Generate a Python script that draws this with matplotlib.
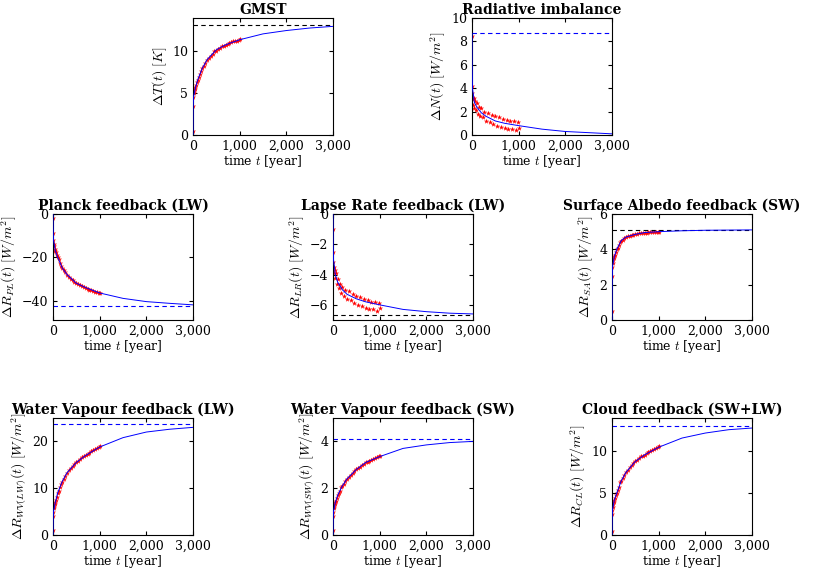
import matplotlib
matplotlib.use("Agg")
import matplotlib.pyplot as plt
from matplotlib.ticker import FuncFormatter

plt.rcParams.update({"font.family": "DejaVu Serif", "mathtext.fontset": "cm", "font.size": 9})

t_obs = [0,5,10,20,30,40,50,60,80,100,120,150,180,200,230,260,300,340,380,420,460,500,540,580,620,660,700,740,780,820,860,900,940,980,1000]
t_fit = [0,2,10,50,100,200,300,500,700,1000,1500,2000,2500,3000]

gmst_obs = [0.5,3.5,4.6,5.0,5.3,5.5,5.8,6.0,6.3,6.6,6.9,7.3,7.7,8.0,8.3,8.6,9.0,9.2,9.5,9.7,10.0,10.1,10.3,10.4,10.6,10.7,10.8,10.9,11.0,11.1,11.2,11.3,11.3,11.4,11.5]
gmst_fit = [0,3.0,4.5,5.6,6.6,8.0,9.0,10.2,10.8,11.4,12.1,12.5,12.8,13.0]
rad_obs = [8.5,4.2,3.6,3.1,2.6,3.2,2.3,2.9,2.1,2.7,1.8,2.4,1.6,2.3,1.5,2.0,1.2,1.9,1.1,1.7,0.9,1.6,0.8,1.5,0.7,1.4,0.6,1.3,0.5,1.2,0.5,1.2,0.4,1.1,0.6]
rad_fit = [8.7,6.0,4.0,2.8,2.4,1.9,1.6,1.2,1.0,0.8,0.5,0.3,0.2,0.1]
pl_obs = [-2,-9,-12,-14,-15,-16,-17,-17.5,-18.8,-20,-21,-22.5,-24,-25,-26,-27,-28,-29,-30,-30.7,-31.4,-32,-32.5,-33,-33.5,-33.8,-34.2,-34.6,-35,-35.3,-35.6,-35.9,-36.2,-36.4,-36.6]
pl_fit = [0,-6,-12,-17,-20,-25,-28,-32,-34,-36.5,-39,-40.5,-41.3,-42]
lr_obs = [-1,-2.5,-3.2,-3.5,-3.9,-3.7,-4.2,-3.9,-4.6,-4.3,-4.9,-4.6,-5.2,-4.8,-5.4,-5.0,-5.6,-5.1,-5.7,-5.3,-5.9,-5.4,-6.0,-5.5,-6.1,-5.6,-6.2,-5.7,-6.3,-5.8,-6.3,-5.8,-6.4,-5.9,-6.2]
lr_fit = [0,-1.8,-3.0,-4.0,-4.5,-5.0,-5.3,-5.6,-5.8,-6.0,-6.3,-6.45,-6.55,-6.6]
sa_obs = [0.5,2.5,3.0,3.2,3.4,3.5,3.6,3.7,3.85,4.0,4.1,4.25,4.4,4.5,4.55,4.62,4.7,4.73,4.78,4.8,4.83,4.85,4.88,4.9,4.9,4.93,4.95,4.95,4.97,4.97,4.98,5.0,5.0,5.0,5.0]
sa_fit = [0,2.0,3.0,3.6,4.0,4.5,4.7,4.85,4.95,5.0,5.05,5.08,5.09,5.1]
wvl_obs = [1,4,5,5.8,6.3,6.7,7.1,7.4,8.2,8.9,9.4,10.2,11,11.4,11.9,12.6,13.3,13.8,14.3,14.8,15.2,15.5,15.9,16.2,16.6,16.8,17.1,17.3,17.6,17.9,18.1,18.4,18.6,18.9,19.0]
wvl_fit = [0,3.0,5.0,7.0,9.0,11.5,13.3,15.5,17.0,18.8,20.8,22.0,22.6,23.0]
wvs_obs = [0.2,0.8,1.0,1.15,1.25,1.32,1.4,1.45,1.58,1.7,1.78,1.9,2.03,2.1,2.2,2.3,2.4,2.5,2.58,2.65,2.73,2.8,2.86,2.92,2.98,3.03,3.1,3.13,3.18,3.22,3.26,3.3,3.33,3.36,3.38]
wvs_fit = [0,0.6,1.0,1.4,1.7,2.1,2.4,2.8,3.1,3.35,3.7,3.85,3.95,4.0]
cl_obs = [0.5,2.5,3.0,3.4,3.7,4.0,4.2,4.4,4.8,5.0,5.4,5.8,6.3,6.5,6.8,7.2,7.5,7.8,8.1,8.4,8.6,8.8,9.0,9.2,9.4,9.5,9.6,9.8,9.95,10.1,10.2,10.3,10.4,10.5,10.6]
cl_fit = [0,2.0,3.0,4.2,5.0,6.5,7.5,8.8,9.6,10.5,11.6,12.2,12.6,12.8]

W, H = 831, 569
panels = [
    ("GMST", r"$\Delta T(t)\ [K]$", gmst_obs, gmst_fit, 13.2, "k", (0, 14), [0,5,10], (193,18,117)),
    ("Radiative imbalance", r"$\Delta N(t)\ [W/m^2]$", rad_obs, rad_fit, 8.7, "blue", (0, 10), [0,2,4,6,8,10], (472,18,117)),
    ("Planck feedback (LW)", r"$\Delta R_{PL}(t)\ [W/m^2]$", pl_obs, pl_fit, -42.5, "blue", (-49, 0), [-40,-20,0], (53,214,106)),
    ("Lapse Rate feedback (LW)", r"$\Delta R_{LR}(t)\ [W/m^2]$", lr_obs, lr_fit, -6.65, "k", (-7, 0), [-6,-4,-2,0], (333,214,106)),
    ("Surface Albedo feedback (SW)", r"$\Delta R_{SA}(t)\ [W/m^2]$", sa_obs, sa_fit, 5.12, "k", (0, 6), [0,2,4,6], (612,214,106)),
    ("Water Vapour feedback (LW)", r"$\Delta R_{WV(LW)}(t)\ [W/m^2]$", wvl_obs, wvl_fit, 23.7, "blue", (0, 25), [0,10,20], (53,418,117)),
    ("Water Vapour feedback (SW)", r"$\Delta R_{WV(SW)}(t)\ [W/m^2]$", wvs_obs, wvs_fit, 4.1, "blue", (0, 5), [0,2,4], (333,418,117)),
    ("Cloud feedback (SW+LW)", r"$\Delta R_{CL}(t)\ [W/m^2]$", cl_obs, cl_fit, 13.0, "blue", (0, 14), [0,5,10], (612,418,117)),
]

fig = plt.figure(figsize=(W/100, H/100), dpi=100)
fmt = FuncFormatter(lambda v, p: f"{int(v):,}")
for title, ylab, obs, fit, eq, dc, ylim, yt, (x0, y0, h) in panels:
    ax = fig.add_axes([x0/W, 1-(y0+h)/H, 140/W, h/H])
    ax.plot(t_fit, fit, color="blue", lw=0.7, zorder=3)
    ax.scatter(t_obs, obs, s=16, color="red", marker="*", zorder=2, lw=0)
    ax.axhline(eq, color=dc, ls=(0, (4, 3)), lw=0.8)
    ax.set_xlim(0, 3000); ax.set_ylim(*ylim)
    ax.set_xticks([0,1000,2000,3000]); ax.xaxis.set_major_formatter(fmt)
    ax.set_yticks(yt)
    ax.tick_params(direction="in", top=True, right=True, length=3, labelsize=9)
    ax.set_title(title, fontweight="bold", fontsize=10, pad=3)
    ax.set_xlabel(r"time $t$ [year]", labelpad=0)
    ax.set_ylabel(ylab, labelpad=2, fontsize=10)
fig.savefig("out.png", dpi=100)
